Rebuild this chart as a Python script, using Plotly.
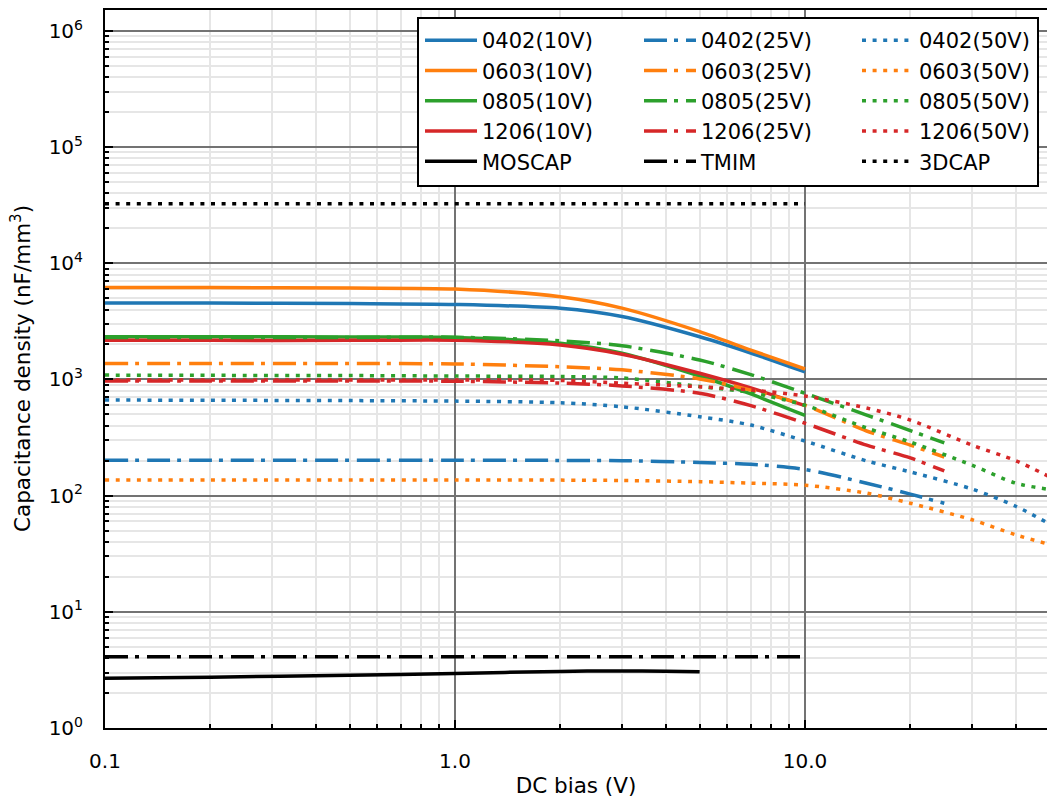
import plotly.graph_objects as go

# DC bias sweep points (V)
v10 = [0.1, 0.2, 0.5, 1, 2, 3, 5, 7, 10]
v25 = [0.1, 0.2, 0.5, 1, 2, 3, 5, 7, 10, 15, 20, 25]
v50 = [0.1, 0.2, 0.5, 1, 2, 3, 5, 7, 10, 15, 20, 30, 40, 50]

# MLCC capacitance density (nF/mm^3), by case size and rated voltage
c0402_10 = [4550, 4540, 4500, 4420, 4100, 3480, 2330, 1690, 1160]
c0603_10 = [6200, 6180, 6120, 6000, 5150, 4110, 2580, 1790, 1230]
c0805_10 = [2330, 2330, 2320, 2300, 2050, 1680, 1070, 750, 490]
c1206_10 = [2170, 2170, 2170, 2180, 1980, 1650, 1130, 845, 595]

c0402_25 = [202, 202, 202, 202, 201, 200, 193, 186, 168, 128, 103, 86]
c0603_25 = [1375, 1375, 1370, 1360, 1285, 1210, 1010, 810, 600, 360, 272, 215]
c0805_25 = [2300, 2300, 2300, 2310, 2150, 1950, 1470, 1100, 760, 494, 363, 284]
c1206_25 = [968, 968, 968, 965, 930, 880, 760, 595, 420, 272, 211, 163]

c0402_50 = [665, 662, 658, 651, 630, 582, 478, 405, 295, 199, 160, 114, 81, 57]
c0603_50 = [136, 136, 136, 136, 136, 135, 132, 128, 123, 105, 86, 62, 46, 38]
c0805_50 = [1090, 1085, 1080, 1070, 1060, 1030, 870, 770, 600, 382, 289, 183, 128, 113]
c1206_50 = [990, 990, 990, 990, 980, 930, 865, 811, 719, 568, 447, 272, 200, 145]

# Integrated capacitor technologies
v_mos = [0.1, 0.2, 0.5, 1, 2, 3, 4, 5]
c_mos = [2.68, 2.74, 2.84, 2.95, 3.07, 3.10, 3.08, 3.05]
v_tmim = [0.1, 10]
c_tmim = [4.1, 4.1]
v_3d = [0.1, 10]
c_3d = [32500, 32500]

x_ticks = [0.1, 1, 10]
x_ticktext = ["0.1", "1.0", "10.0"]
y_ticks = [10 ** k for k in range(0, 7)]
y_ticktext = [f"10<sup>{k}</sup>" for k in range(0, 7)]

BLUE, ORANGE, GREEN, RED, BLACK = "#1f77b4", "#ff7f0e", "#2ca02c", "#d62728", "#000000"
SOLID = "solid"
DASHDOT = "23px,7px,4px,8px"
DOT = "4px,6.6px"
FONT = "DejaVu Sans"

series = [
    ("0402(10V)", v10, c0402_10, BLUE, SOLID, "legend"),
    ("0603(10V)", v10, c0603_10, ORANGE, SOLID, "legend"),
    ("0805(10V)", v10, c0805_10, GREEN, SOLID, "legend"),
    ("1206(10V)", v10, c1206_10, RED, SOLID, "legend"),
    ("0402(25V)", v25, c0402_25, BLUE, DASHDOT, "legend2"),
    ("0603(25V)", v25, c0603_25, ORANGE, DASHDOT, "legend2"),
    ("0805(25V)", v25, c0805_25, GREEN, DASHDOT, "legend2"),
    ("1206(25V)", v25, c1206_25, RED, DASHDOT, "legend2"),
    ("0402(50V)", v50, c0402_50, BLUE, DOT, "legend3"),
    ("0603(50V)", v50, c0603_50, ORANGE, DOT, "legend3"),
    ("0805(50V)", v50, c0805_50, GREEN, DOT, "legend3"),
    ("1206(50V)", v50, c1206_50, RED, DOT, "legend3"),
    ("MOSCAP", v_mos, c_mos, BLACK, SOLID, "legend"),
    ("TMIM", v_tmim, c_tmim, BLACK, DASHDOT, "legend2"),
    ("3DCAP", v_3d, c_3d, BLACK, DOT, "legend3"),
]

fig = go.Figure()
for name, xs, ys, color, dash, leg in series:
    fig.add_trace(go.Scatter(
        x=xs, y=ys, name=name, mode="lines", legend=leg,
        line=dict(color=color, width=3.5, dash=dash, shape="spline", smoothing=0.8),
    ))

L, R, T, B = 105, 0, 10, 70
W, H = 1047, 798
pw, ph = W - L - R, H - T - B


def px_x(p):
    return (p - L) / pw


def px_y(p):
    return 1 - (p - T) / ph


legend_common = dict(
    bgcolor="rgba(0,0,0,0)", borderwidth=0,
    font=dict(family=FONT, size=21, color="black"),
    xanchor="left", yanchor="top", itemwidth=52,
    tracegroupgap=0,
)
fig.update_layout(
    legend=dict(x=px_x(420), y=px_y(20), **legend_common),
    legend2=dict(x=px_x(639), y=px_y(20), **legend_common),
    legend3=dict(x=px_x(857), y=px_y(20), **legend_common),
)

# legend frame
fig.add_shape(
    type="rect", xref="paper", yref="paper",
    x0=px_x(418), x1=px_x(1038), y0=px_y(186), y1=px_y(18),
    line=dict(color="black", width=2), fillcolor="white", layer="above",
)

# y-axis title, placed at the left edge of the figure
fig.add_annotation(
    text="Capacitance density (nF/mm<sup>3</sup>)",
    xref="paper", yref="paper", x=px_x(21), y=0.5,
    xanchor="center", yanchor="middle", textangle=-90, showarrow=False,
    font=dict(family=FONT, size=21.5, color="black"),
)

minor_x = [m * 10 ** e for e in (-1, 0, 1) for m in range(2, 10)]
minor_y = [m * 10 ** e for e in range(0, 7) for m in range(2, 10)]

axis_common = dict(
    type="log", showline=True, linecolor="black", linewidth=2,
    ticks="inside", ticklen=8, tickwidth=1.5, tickcolor="black",
    showgrid=True, gridcolor="#737373", gridwidth=1.8,
    zeroline=False,
    tickfont=dict(family=FONT, size=20, color="black"),
    title_font=dict(family=FONT, size=21.5, color="black"),
)

fig.update_xaxes(
    **axis_common, range=[-1, 1.6914], mirror=True,
    tickmode="array", tickvals=x_ticks, ticktext=x_ticktext,
    ticklabelstandoff=14,
    title_text="DC bias (V)", title_standoff=8,
    minor=dict(tickmode="array", tickvals=minor_x, ticks="inside", ticklen=4,
               tickcolor="black", showgrid=True, gridcolor="#e6e6e6", gridwidth=1.5),
)
fig.update_yaxes(
    **axis_common, range=[0, 6.18], mirror=False,
    tickmode="array", tickvals=y_ticks, ticktext=y_ticktext,
    ticklabelstandoff=16,
    minor=dict(tickmode="array", tickvals=minor_y, ticks="inside", ticklen=4,
               tickcolor="black", showgrid=True, gridcolor="#e6e6e6", gridwidth=1.5),
)

fig.update_layout(
    width=W, height=H, margin=dict(l=L, r=R, t=T, b=B, autoexpand=False),
    paper_bgcolor="white", plot_bgcolor="white",
    font=dict(family=FONT, size=20, color="black"),
)

fig.write_html("out.html")
